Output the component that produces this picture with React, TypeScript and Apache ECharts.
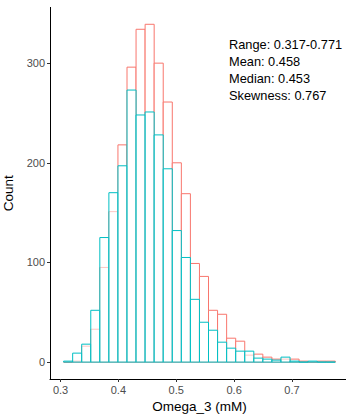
import React, { useEffect, useRef } from "react";
import * as echarts from "echarts";

// Histogram bin lower edges (31 edges -> 30 bins)
const binEdges = [
  0.3053, 0.32096, 0.33661, 0.35227, 0.36792, 0.38358, 0.39923, 0.41489,
  0.43054, 0.4462, 0.46185, 0.47751, 0.49316, 0.50882, 0.52447, 0.54013,
  0.55578, 0.57144, 0.58709, 0.60275, 0.6184, 0.63406, 0.64971, 0.66537,
  0.68102, 0.69668, 0.71233, 0.72799, 0.74364, 0.7593, 0.77495,
];

const redCounts = [
  0, 1, 16, 33, 95, 151, 218, 296, 334, 339, 300, 261, 200, 169, 99, 86, 52,
  48, 24, 21, 7, 8, 5, 3, 3, 3, 1, 0, 1, 1,
];
const cyanCounts = [
  1, 9, 18, 52, 125, 170, 197, 273, 248, 251, 228, 194, 132, 105, 63, 40, 32,
  20, 14, 11, 11, 4, 3, 2, 5, 1, 0, 1, 0, 0,
];

const xTicks = [0.3, 0.4, 0.5, 0.6, 0.7];
const yTicks = [0, 100, 200, 300];
const statLines = [
  "Range: 0.317-0.771",
  "Mean: 0.458",
  "Median: 0.453",
  "Skewness: 0.767",
];

const FONT = "'Liberation Sans', Arial, sans-serif";

function toBins(counts: number[]) {
  return counts.map((c, i) => [binEdges[i], binEdges[i + 1], c]);
}

function makeRender(stroke: string, fill: string) {
  return (params: any, api: any) => {
    const x0 = api.value(0);
    const x1 = api.value(1);
    const c = api.value(2);
    const p0 = api.coord([x0, c]);
    const p1 = api.coord([x1, 0]);
    return {
      type: "rect",
      shape: { x: p0[0], y: p0[1], width: p1[0] - p0[0], height: p1[1] - p0[1] },
      style: { fill, stroke, lineWidth: 1 },
    };
  };
}

export default function App() {
  const ref = useRef<HTMLDivElement>(null);
  useEffect(() => {
    if (!ref.current) return;
    const chart = echarts.init(ref.current, null, { renderer: "svg" });
    const axisCommon = {
      splitLine: { show: false },
      axisLine: { onZero: false, lineStyle: { color: "#000", width: 1 } },
      axisTick: { length: 3, lineStyle: { color: "#333", width: 1 } },
    };
    chart.setOption({
      animation: false,
      backgroundColor: "#fff",
      grid: {
        left: 50,
        top: 7.4,
        width: 299,
        height: 371.6,
        containLabel: false,
        outerBoundsMode: "none",
      },
      xAxis: {
        type: "value",
        min: 0.2818,
        max: 0.7986,
        ...axisCommon,
        axisTick: { ...axisCommon.axisTick, customValues: xTicks },
        axisLabel: {
          customValues: xTicks,
          formatter: (v: number) => v.toFixed(1),
          color: "#4d4d4d",
          fontSize: 11,
          fontFamily: FONT,
          margin: 5,
        },
        name: "Omega_3 (mM)",
        nameLocation: "middle",
        nameGap: 14,
        nameTextStyle: { color: "#000", fontSize: 13.5, fontFamily: FONT },
      },
      yAxis: {
        type: "value",
        min: -16.95,
        max: 355.95,
        ...axisCommon,
        axisTick: { ...axisCommon.axisTick, customValues: yTicks },
        axisLabel: {
          customValues: yTicks,
          color: "#4d4d4d",
          fontSize: 11,
          fontFamily: FONT,
          margin: 5,
        },
        name: "Count",
        nameLocation: "middle",
        nameGap: 27,
        nameRotate: 90,
        nameTextStyle: { color: "#000", fontSize: 13.5, fontFamily: FONT },
      },
      graphic: statLines.map((t, i) => ({
        type: "text",
        x: 229,
        y: 44 + i * 17,
        style: {
          text: t,
          fill: "#000",
          fontSize: 12.8,
          fontFamily: FONT,
          textAlign: "left",
          textVerticalAlign: "middle",
        },
      })),
      series: [
        {
          type: "custom",
          renderItem: makeRender("#F8766D", "#ffffff"),
          data: toBins(redCounts),
          encode: { x: [0, 1], y: 2 },
        },
        {
          type: "custom",
          renderItem: makeRender("#00BFC4", "rgba(255,255,255,0.6)"),
          data: toBins(cyanCounts),
          encode: { x: [0, 1], y: 2 },
        },
      ],
    });
    return () => chart.dispose();
  }, []);
  return (
    <div
      ref={ref}
      style={{ position: "fixed", left: 0, top: 0, width: 346, height: 417 }}
    />
  );
}
